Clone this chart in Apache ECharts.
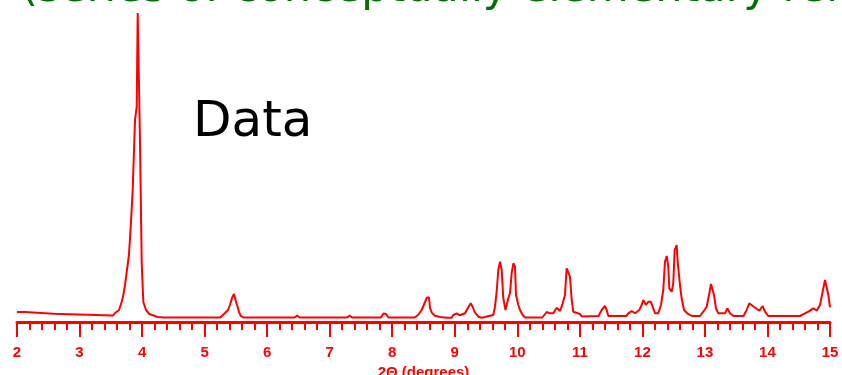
<!DOCTYPE html>
<html>
<head>
<meta charset="utf-8">
<script src="https://cdn.jsdelivr.net/npm/echarts@6/dist/echarts.min.js"></script>
<style>
html,body{margin:0;padding:0;background:#fff;}
#c{width:842px;height:375px;}
</style>
</head>
<body>
<div id="c"></div>
<script>
// 2-theta positions (degrees)
var twoTheta = [
2.00,2.13,2.14,2.58,2.60,3.535,3.567,3.631,3.674,3.70,3.727,3.754,3.79,3.818,3.85,3.887,3.914,3.93,3.95,3.967,3.994,4.02,4.063,4.115,4.25,4.35,
5.25,5.273,5.326,5.374,5.406,5.438,5.47,5.494,5.518,5.55,5.58,5.62,
6.44,6.48,6.52,7.28,7.32,7.36,7.82,7.86,7.90,7.94,
8.36,8.412,8.471,8.524,8.556,8.588,8.604,8.636,8.684,8.764,8.876,8.95,8.976,9.031,9.083,9.163,9.216,9.255,9.287,9.318,9.376,9.43,9.456,
9.616,9.643,9.67,9.696,9.723,9.75,9.776,9.811,9.835,9.856,9.883,9.91,9.937,9.963,9.979,10.016,10.043,10.086,10.123,
10.40,10.47,10.52,10.576,10.63,10.683,10.726,10.762,10.789,10.815,10.842,10.87,10.895,11.002,11.03,
11.30,11.349,11.402,11.429,11.455,11.74,11.775,11.829,11.882,11.95,11.989,12.014,12.058,12.094,12.133,12.165,12.201,12.254,
12.297,12.334,12.361,12.389,12.414,12.43,12.469,12.494,12.516,12.548,12.564,12.585,12.601,12.628,12.665,12.718,12.788,
12.921,12.974,13.028,13.065,13.097,13.145,13.177,13.214,13.321,13.358,13.40,13.458,13.617,13.668,13.709,13.764,13.816,13.869,13.924,13.96,14.013,
14.52,14.60,14.653,14.733,14.787,14.84,14.883,14.92,14.947,14.973,15.0
];
// intensities (arbitrary units)
var intensity = [
10,10,8.3,8.3,6.5,6.5,9,12,20,27,37,50,67,95,132,202,215,309,310,179,59,20,12,8,5,4.5,
4.5,6,9,12,17,24,28,26,17,10,6,4.5,
4.5,6.5,4.5,4.5,6.5,4.5,4.5,8.5,8,4.5,
4.5,7,12,20,24.5,24.5,14,9,6.3,5,4.3,4.3,7,8.7,6.7,8.7,14.7,18.7,15,10,5.3,4.3,6,
7,15.3,30.3,52,60.3,52,23.7,12,14,23.7,28.7,49,58.7,55.3,27,17,12,7,4.5,
4.5,10,8.7,8.7,14.3,11,18.7,27,53.7,55.3,45.3,22,10.3,8,5.5,
6,12,16,12,6,6,8.7,11,8.7,12,17,22,17,20.3,20.3,15.3,8.7,8.7,
17,32,60.3,66,55.3,33.7,30.3,38.7,72,77,60.3,58.7,37,23.7,12,8.7,6,
6,10.3,15.3,27,38,27,13.7,8.7,8.7,13.7,8.7,6,6,12,18.7,16,13.7,11.3,16,10.3,6,
6,8.7,10.3,13.7,11.3,17,30.3,42,42,27,14.7
];
var xTicks = [2,3,4,5,6,7,8,9,10,11,12,13,14,15];
var titleText = '(series of conceptually elementary reflections)';
var dataLabel = 'Data';
var axisName = '2\u0398 (degrees)';

var pts = twoTheta.map(function(x,i){return [x, intensity[i]];});
var chart = echarts.init(document.getElementById('c'), null, {renderer:'canvas'});
chart.setOption({
  animation:false,
  backgroundColor:'#ffffff',
  grid:{left:17,right:12,top:12,bottom:53,containLabel:false,outerBoundsMode:'none'},
  xAxis:{
    type:'value', min:xTicks[0], max:xTicks[xTicks.length-1], interval:1,
    axisLine:{show:true,lineStyle:{color:'#ff0000',width:3}},
    axisTick:{show:true,length:15,inside:false,lineStyle:{color:'#ff0000',width:2}},
    minorTick:{show:true,splitNumber:5,length:8,lineStyle:{color:'#ff0000',width:2}},
    splitLine:{show:false},
    minorSplitLine:{show:false},
    axisLabel:{color:'#ff0000',fontWeight:'bold',fontSize:15,fontFamily:'Liberation Sans, Arial, sans-serif',margin:23},
    name:axisName, nameLocation:'middle', nameGap:40,
    nameTextStyle:{color:'#ff0000',fontWeight:'bold',fontSize:15,fontFamily:'Liberation Sans, Arial, sans-serif'}
  },
  yAxis:{type:'value',min:0,max:310,show:false,splitLine:{show:false}},
  series:[{
    type:'line', data:pts, showSymbol:false, symbol:'none',
    lineStyle:{color:'#ff0000',width:2}, clip:false
  }],
  graphic:[
    {type:'text',x:21,y:-10,silent:true,
     style:{text:titleText,fill:'#007000',font:'43px "DejaVu Sans"',verticalAlign:'middle',align:'left'}},
    {type:'text',x:193,y:123,silent:true,
     style:{text:dataLabel,fill:'#000000',font:'50px "DejaVu Sans"',verticalAlign:'middle',align:'left'}}
  ]
});
</script>
</body>
</html>
